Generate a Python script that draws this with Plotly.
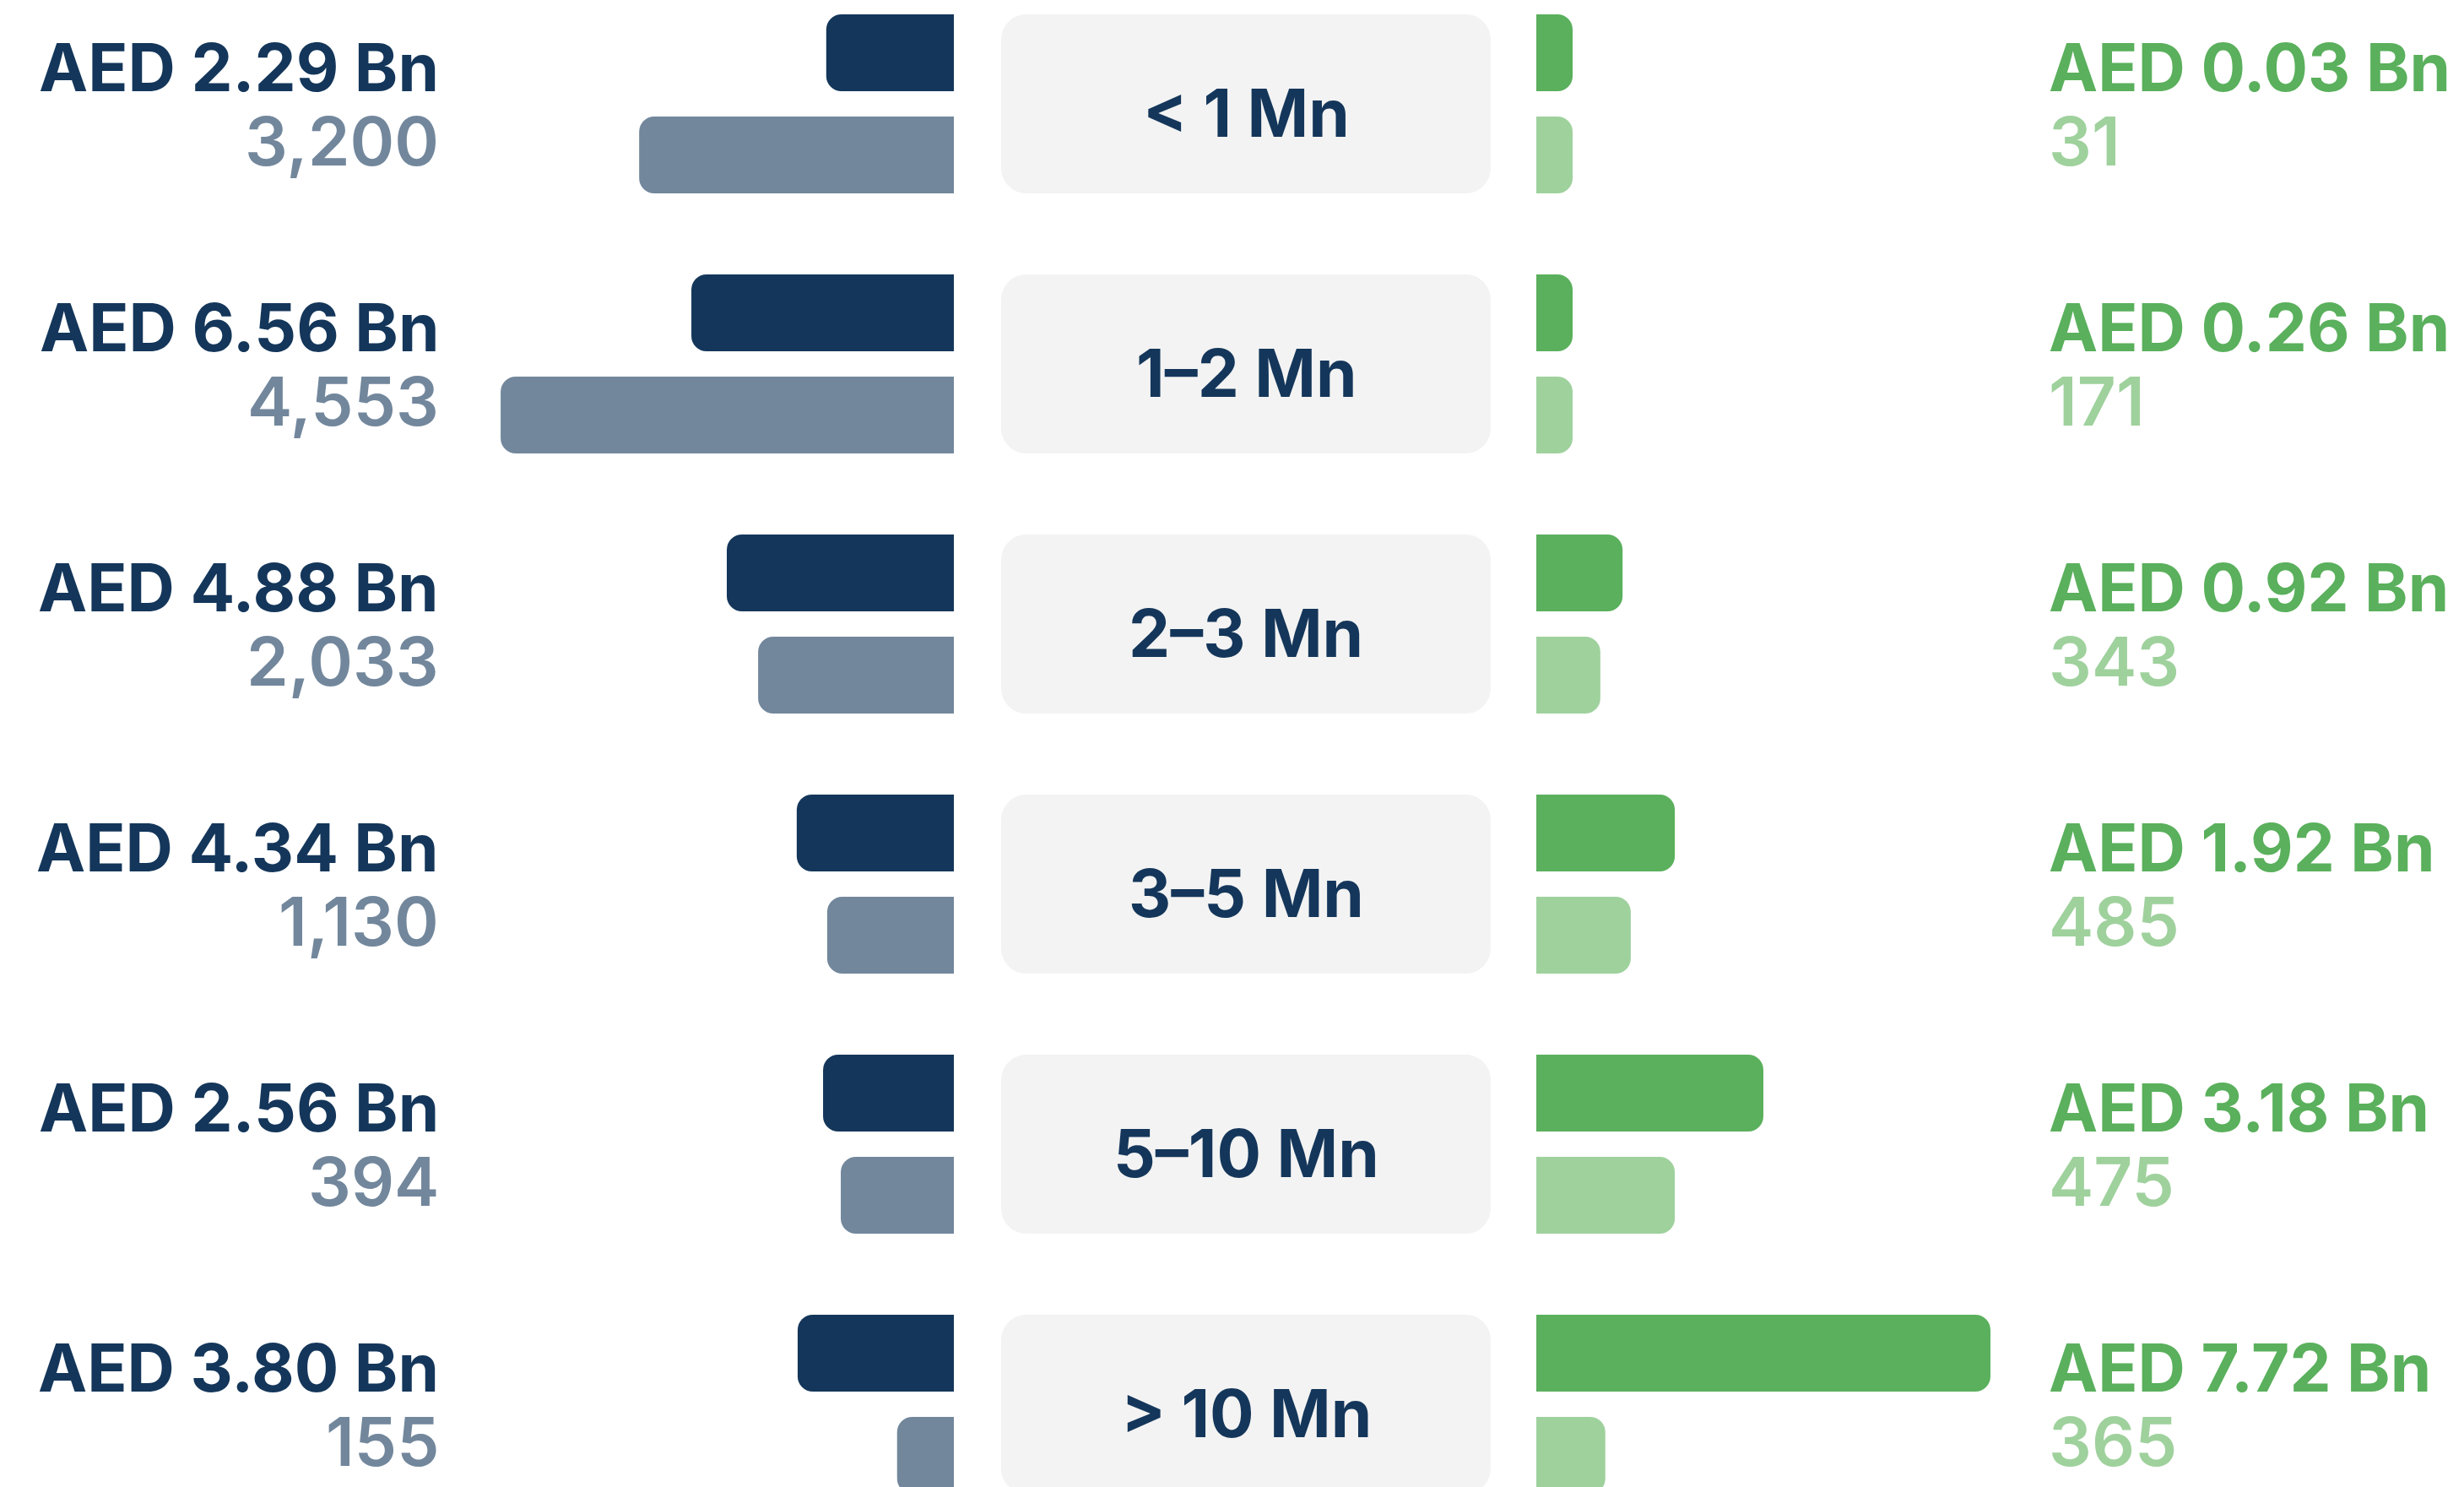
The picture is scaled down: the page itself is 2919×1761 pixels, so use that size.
import plotly.graph_objects as go

# ---------------- data ----------------
categories = ["< 1 Mn", "1–2 Mn", "2–3 Mn", "3–5 Mn", "5–10 Mn", "> 10 Mn"]

left_value_labels = ["AED 2.29 Bn", "AED 6.56 Bn", "AED 4.88 Bn", "AED 4.34 Bn", "AED 2.56 Bn", "AED 3.80 Bn"]
left_count_labels = ["3,200", "4,553", "2,033", "1,130", "394", "155"]
right_value_labels = ["AED 0.03 Bn", "AED 0.26 Bn", "AED 0.92 Bn", "AED 1.92 Bn", "AED 3.18 Bn", "AED 7.72 Bn"]
right_count_labels = ["31", "171", "343", "485", "475", "365"]

# bar lengths as drawn in the picture (percent of the longest bar)
left_value_bars = [28.1, 57.8, 50.0, 34.6, 28.8, 34.4]
left_count_bars = [69.3, 99.8, 43.1, 27.9, 24.9, 12.5]
right_value_bars = [8.0, 8.0, 19.0, 30.5, 50.0, 100.0]
right_count_bars = [8.0, 8.0, 14.1, 20.8, 30.5, 15.2]

# ---------------- style ----------------
NAVY = "#14365a"
GREY = "#72879c"
GREEN = "#5ab05c"
LIGHT_GREEN = "#9fd19d"
BOX = "#f3f3f3"
FONT = "Inter, 'Open Sans', sans-serif"

PAGE_W, PAGE_H = 2919, 1761
OFF = 8                      # default body margin of the html page
W, H = PAGE_W - OFF, PAGE_H - OFF
ROW_PX = 308                 # pitch of one category row
BAR_MAX_PX = 538             # pixel length of a 100 % bar
LEFT_END = 1130 - OFF        # where left bars meet their base
RIGHT_START = 1820 - OFF     # where right bars start
FIRST_ROW_CENTER = 123 - OFF
HALF_GROUP = 106             # half height of a bar pair / center box

VALUE_FONT = dict(family=FONT, size=78, weight=700)
COUNT_FONT = dict(family=FONT, size=80, weight=600)
VALUE_SHIFT = 44
COUNT_SHIFT = -43.5
CENTER_SHIFT = -10


def px(xp):
    """page x pixel -> paper fraction"""
    return (xp - OFF) / W


y_top = -FIRST_ROW_CENTER / ROW_PX
y_bottom = y_top + H / ROW_PX

fig = go.Figure()


def add_bar(vals, color, xaxis, name):
    fig.add_trace(go.Bar(
        y=categories, x=vals, orientation="h", xaxis=xaxis, yaxis="y",
        marker=dict(color=color, cornerradius=18, line=dict(width=0)),
        hoverinfo="skip", name=name, showlegend=False,
    ))


add_bar(left_value_bars, NAVY, "x", "Value (left)")
add_bar(left_count_bars, GREY, "x", "Count (left)")
add_bar(right_value_bars, GREEN, "x2", "Value (right)")
add_bar(right_count_bars, LIGHT_GREEN, "x2", "Count (right)")

# center rounded boxes
bx0, bx1 = px(1186), px(1766)
rx = 30 / W
ry = 30 / ROW_PX
k = 0.5523
shapes = []
for i, _ in enumerate(categories):
    y0 = i - HALF_GROUP / ROW_PX
    y1 = i + HALF_GROUP / ROW_PX
    p = (
        f"M {bx0 + rx},{y0} L {bx1 - rx},{y0} "
        f"C {bx1 - rx + k * rx},{y0} {bx1},{y0 + ry - k * ry} {bx1},{y0 + ry} "
        f"L {bx1},{y1 - ry} "
        f"C {bx1},{y1 - ry + k * ry} {bx1 - rx + k * rx},{y1} {bx1 - rx},{y1} "
        f"L {bx0 + rx},{y1} "
        f"C {bx0 + rx - k * rx},{y1} {bx0},{y1 - ry + k * ry} {bx0},{y1 - ry} "
        f"L {bx0},{y0 + ry} "
        f"C {bx0},{y0 + ry - k * ry} {bx0 + rx - k * rx},{y0} {bx0 + rx},{y0} Z"
    )
    shapes.append(dict(type="path", path=p, xref="paper", yref="y",
                       fillcolor=BOX, line=dict(width=0), layer="below"))

annotations = []
for i, cat in enumerate(categories):
    annotations.append(dict(x=px(522), xref="paper", y=cat, yref="y", xanchor="right",
                            yanchor="middle", yshift=VALUE_SHIFT, showarrow=False,
                            text=left_value_labels[i],
                            font=dict(VALUE_FONT, color=NAVY)))
    annotations.append(dict(x=px(522), xref="paper", y=cat, yref="y", xanchor="right",
                            yanchor="middle", yshift=COUNT_SHIFT, showarrow=False,
                            text=left_count_labels[i],
                            font=dict(COUNT_FONT, color=GREY)))
    annotations.append(dict(x=px(2425), xref="paper", y=cat, yref="y", xanchor="left",
                            yanchor="middle", yshift=VALUE_SHIFT, showarrow=False,
                            text=right_value_labels[i],
                            font=dict(VALUE_FONT, color=GREEN)))
    annotations.append(dict(x=px(2425), xref="paper", y=cat, yref="y", xanchor="left",
                            yanchor="middle", yshift=COUNT_SHIFT, showarrow=False,
                            text=right_count_labels[i],
                            font=dict(COUNT_FONT, color=LIGHT_GREEN)))
    annotations.append(dict(x=px(1476), xref="paper", y=cat, yref="y", xanchor="center",
                            yanchor="middle", yshift=CENTER_SHIFT, showarrow=False,
                            text=cat,
                            font=dict(VALUE_FONT, color=NAVY)))

fig.update_layout(
    width=W, height=H,
    margin=dict(l=0, r=0, t=0, b=0),
    paper_bgcolor="white", plot_bgcolor="white",
    barmode="group", bargap=1 - 242 / ROW_PX, bargroupgap=30 / 121,
    xaxis=dict(domain=[0, LEFT_END / W], range=[LEFT_END / BAR_MAX_PX * 100, 0],
               visible=False, fixedrange=True),
    xaxis2=dict(domain=[RIGHT_START / W, 1], range=[0, (W - RIGHT_START) / BAR_MAX_PX * 100],
                anchor="y", visible=False, fixedrange=True),
    yaxis=dict(type="category", categoryorder="array", categoryarray=categories,
               range=[y_bottom, y_top], autorange=False, visible=False, fixedrange=True),
    shapes=shapes,
    annotations=annotations,
    showlegend=False,
)

fig.write_html("out.html")
